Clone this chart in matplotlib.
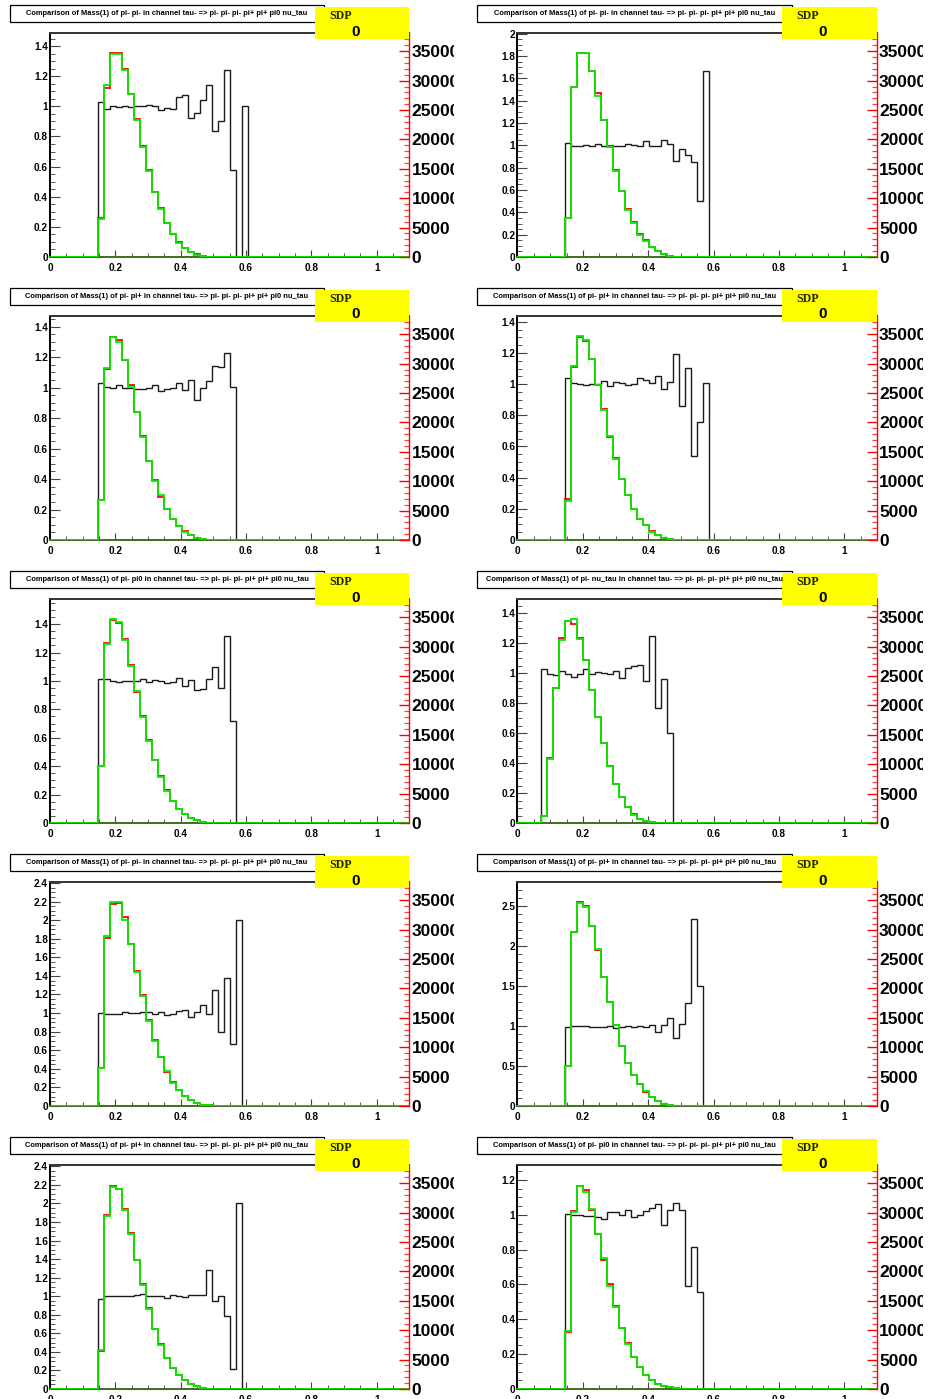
import numpy as np
import matplotlib
matplotlib.use("Agg")
import matplotlib.pyplot as plt
from matplotlib.patches import Rectangle
from matplotlib.ticker import MultipleLocator, AutoMinorLocator, FormatStrFormatter
from matplotlib.transforms import Bbox, TransformedBbox

plt.rcParams["font.family"] = ["Liberation Sans", "DejaVu Sans"]
plt.rcParams["font.weight"] = "bold"

W, H = 929, 1399
N_BINS = 60
edges = np.linspace(0.0, 1.1, N_BINS + 1)

# --- data (left-axis units) ---
titles = [
    "Comparison of Mass(1) of pi- pi- in channel tau- => pi- pi- pi- pi+ pi+ pi0 nu_tau",
    "Comparison of Mass(1) of pi- pi- in channel tau- => pi- pi- pi- pi+ pi+ pi0 nu_tau",
    "Comparison of Mass(1) of pi- pi+ in channel tau- => pi- pi- pi- pi+ pi+ pi0 nu_tau",
    "Comparison of Mass(1) of pi- pi+ in channel tau- => pi- pi- pi- pi+ pi+ pi0 nu_tau",
    "Comparison of Mass(1) of pi- pi0 in channel tau- => pi- pi- pi- pi+ pi+ pi0 nu_tau",
    "Comparison of Mass(1) of pi- nu_tau in channel tau- => pi- pi- pi- pi+ pi+ pi0 nu_tau",
    "Comparison of Mass(1) of pi- pi- in channel tau- => pi- pi- pi- pi+ pi+ pi0 nu_tau",
    "Comparison of Mass(1) of pi- pi+ in channel tau- => pi- pi- pi- pi+ pi+ pi0 nu_tau",
    "Comparison of Mass(1) of pi- pi+ in channel tau- => pi- pi- pi- pi+ pi+ pi0 nu_tau",
    "Comparison of Mass(1) of pi- pi0 in channel tau- => pi- pi- pi- pi+ pi+ pi0 nu_tau",
]
sdp_values = [0, 0, 0, 0, 0, 0, 0, 0, 0, 0]
first_bin = [8, 8, 8, 8, 8, 4, 8, 8, 8, 8]
y_max = [1.487, 2.006, 1.47, 1.437, 1.577, 1.494, 2.41, 2.806, 2.414, 1.286]
y_step = [0.2, 0.2, 0.2, 0.2, 0.2, 0.2, 0.2, 0.5, 0.2, 0.2]
right_max = 38100

ratio_1 = [1.03, 0.985, 1.0, 0.997, 1.0, 0.998, 1.0, 1.0, 1.01, 1.003, 0.975, 0.99, 0.982,
           1.065, 1.075, 0.92, 0.955, 1.04, 1.14, 0.835, 0.905, 1.24, 0.575, 0.0, 1.0]
green_1 = [0.25, 1.14, 1.35, 1.35, 1.24, 1.08, 0.91, 0.73, 0.57, 0.43, 0.32, 0.225, 0.15,
           0.095, 0.062, 0.033, 0.015, 0.007, 0.003, 0.001]
red_1 = [0.26, 1.125, 1.355, 1.355, 1.245, 1.08, 0.915, 0.735, 0.575, 0.43, 0.325, 0.225, 0.155,
         0.1, 0.062, 0.035, 0.017, 0.008, 0.003, 0.001]

ratio_2 = [1.024, 0.994, 0.995, 1.0, 0.998, 1.01, 0.99, 0.99, 0.99, 0.99, 1.01, 1.0, 0.99,
           1.04, 0.99, 0.99, 1.05, 1.015, 0.86, 0.97, 0.915, 0.855, 0.5, 1.67]
green_2 = [0.345, 1.52, 1.826, 1.826, 1.668, 1.446, 1.228, 0.988, 0.772, 0.593, 0.425, 0.305,
           0.2, 0.14, 0.09, 0.054, 0.024, 0.01, 0.004]
red_2 = [0.35, 1.525, 1.83, 1.83, 1.665, 1.47, 1.23, 0.99, 0.775, 0.595, 0.43, 0.31,
         0.21, 0.15, 0.092, 0.055, 0.026, 0.011, 0.004]

ratio_3 = [1.033, 1.002, 0.998, 1.015, 1.0, 0.998, 0.99, 0.99, 1.0, 1.017, 0.975, 0.99, 1.0,
           1.03, 0.985, 1.05, 0.92, 1.0, 1.046, 1.14, 1.135, 1.225, 1.005]
green_3 = [0.26, 1.13, 1.335, 1.3, 1.18, 1.005, 0.84, 0.675, 0.52, 0.39, 0.295, 0.205, 0.14,
           0.09, 0.055, 0.03, 0.015, 0.006, 0.002]
red_3 = [0.265, 1.125, 1.335, 1.315, 1.18, 1.015, 0.84, 0.68, 0.52, 0.395, 0.285, 0.205, 0.135,
         0.095, 0.058, 0.03, 0.015, 0.006, 0.002]

ratio_4 = [1.038, 1.008, 1.0, 0.997, 1.003, 1.0, 1.02, 0.986, 1.012, 1.01, 0.993, 0.998, 1.04,
           1.025, 1.005, 1.055, 0.97, 1.015, 1.196, 0.857, 1.106, 0.542, 0.76, 1.01]
green_4 = [0.247, 1.115, 1.308, 1.282, 1.164, 0.997, 0.836, 0.669, 0.521, 0.39, 0.29, 0.197,
           0.137, 0.094, 0.054, 0.032, 0.015, 0.006, 0.002]
red_4 = [0.26, 1.11, 1.305, 1.275, 1.16, 0.995, 0.84, 0.66, 0.525, 0.39, 0.29, 0.2,
         0.135, 0.094, 0.056, 0.032, 0.015, 0.006, 0.002]

ratio_5 = [1.013, 1.013, 0.999, 0.992, 1.002, 1.002, 0.997, 1.011, 0.992, 1.006, 1.0, 0.983,
           0.995, 1.018, 0.964, 1.006, 0.936, 0.945, 1.013, 1.1, 0.952, 1.313, 0.719]
green_5 = [0.398, 1.261, 1.435, 1.416, 1.289, 1.105, 0.929, 0.747, 0.577, 0.441, 0.323, 0.224,
           0.153, 0.099, 0.064, 0.035, 0.019, 0.007, 0.002]
red_5 = [0.4, 1.27, 1.43, 1.405, 1.295, 1.11, 0.92, 0.75, 0.585, 0.441, 0.33, 0.23,
         0.153, 0.1, 0.064, 0.035, 0.019, 0.007, 0.002]

ratio_6 = [1.029, 0.994, 0.987, 1.014, 0.994, 0.976, 0.994, 1.025, 0.991, 1.007, 1.002, 0.996,
           1.014, 0.967, 1.034, 1.047, 1.054, 0.949, 1.244, 0.764, 0.962, 0.598]
green_6 = [0.045, 0.43, 0.9, 1.22, 1.345, 1.36, 1.23, 1.085, 0.886, 0.708, 0.536, 0.38, 0.263,
           0.172, 0.105, 0.056, 0.029, 0.013, 0.004, 0.001]
red_6 = [0.045, 0.435, 0.9, 1.235, 1.345, 1.33, 1.235, 1.09, 0.89, 0.71, 0.536, 0.38, 0.26,
         0.175, 0.105, 0.058, 0.029, 0.013, 0.004, 0.001]

ratio_7 = [0.997, 0.99, 0.99, 0.995, 1.015, 1.0, 1.005, 1.008, 1.01, 0.99, 1.015, 0.98, 0.985,
           1.02, 1.03, 0.96, 1.015, 1.085, 0.985, 1.25, 0.8, 1.375, 0.668, 2.005]
green_7 = [0.407, 1.828, 2.195, 2.195, 1.997, 1.738, 1.447, 1.187, 0.918, 0.702, 0.522, 0.374,
           0.252, 0.169, 0.104, 0.065, 0.032, 0.014, 0.007, 0.003]
red_7 = [0.41, 1.81, 2.175, 2.18, 2.03, 1.74, 1.45, 1.19, 0.93, 0.71, 0.53, 0.37,
         0.255, 0.17, 0.106, 0.066, 0.033, 0.015, 0.007, 0.003]

ratio_8 = [0.992, 0.997, 1.005, 1.005, 0.992, 0.984, 0.992, 1.0, 0.976, 0.984, 1.005, 0.992,
           1.005, 0.992, 1.013, 0.921, 1.018, 1.106, 0.846, 1.03, 1.286, 2.337, 1.508]
green_8 = [0.503, 2.178, 2.542, 2.492, 2.253, 1.968, 1.621, 1.298, 1.018, 0.754, 0.536, 0.389,
           0.272, 0.184, 0.113, 0.063, 0.03, 0.013, 0.005, 0.002]
red_8 = [0.5, 2.18, 2.555, 2.51, 2.26, 1.955, 1.61, 1.3, 1.02, 0.754, 0.54, 0.389,
         0.272, 0.18, 0.113, 0.063, 0.03, 0.013, 0.005, 0.002]

ratio_9 = [0.975, 1.0, 1.003, 0.998, 1.005, 0.998, 1.01, 1.025, 1.0, 1.005, 1.0, 0.985, 1.008,
           1.005, 0.99, 1.015, 1.015, 1.015, 1.284, 0.947, 1.0, 0.79, 0.215, 2.005]
green_9 = [0.416, 1.866, 2.181, 2.156, 1.934, 1.672, 1.385, 1.123, 0.865, 0.649, 0.477, 0.334,
           0.226, 0.147, 0.093, 0.05, 0.029, 0.014, 0.004]
red_9 = [0.41, 1.87, 2.19, 2.15, 1.94, 1.68, 1.39, 1.13, 0.87, 0.65, 0.48, 0.334,
         0.226, 0.148, 0.093, 0.05, 0.029, 0.014, 0.004]

ratio_10 = [1.005, 1.0, 0.998, 0.994, 0.992, 0.99, 0.978, 1.017, 1.015, 1.001, 1.028, 0.99,
            0.998, 1.02, 1.04, 1.06, 0.94, 1.025, 1.07, 1.025, 0.59, 0.815, 0.555]
green_10 = [0.333, 1.019, 1.168, 1.131, 1.032, 0.887, 0.751, 0.594, 0.47, 0.348, 0.26, 0.182,
            0.126, 0.082, 0.054, 0.031, 0.017, 0.01, 0.004, 0.001]
red_10 = [0.33, 1.02, 1.165, 1.14, 1.03, 0.89, 0.74, 0.6, 0.475, 0.35, 0.265, 0.182,
          0.126, 0.082, 0.054, 0.031, 0.017, 0.01, 0.004, 0.001]

ratios = [ratio_1, ratio_2, ratio_3, ratio_4, ratio_5, ratio_6, ratio_7, ratio_8, ratio_9, ratio_10]
greens = [green_1, green_2, green_3, green_4, green_5, green_6, green_7, green_8, green_9, green_10]
reds = [red_1, red_2, red_3, red_4, red_5, red_6, red_7, red_8, red_9, red_10]


def full(vals, start):
    arr = np.zeros(N_BINS)
    arr[start:start + len(vals)] = vals
    return arr


def frac_rect(x0, y0, x1, y1):
    # pixel box (top-left origin) -> figure fraction rect
    return [x0 / W, 1 - y1 / H, (x1 - x0) / W, (y1 - y0) / H]


fig = plt.figure(figsize=(W / 100, H / 100), dpi=100)
fig.patch.set_facecolor("white")

col_dx = 467.5
row_dy = 283
twins = []

for i in range(10):
    row, col = divmod(i, 2)
    ox = col * col_dx
    oy = row * row_dy

    ax = fig.add_axes(frac_rect(50 + ox, 33 + oy, 409.5 + ox, 257 + oy))
    s = first_bin[i]
    ax.stairs(full(ratios[i], s), edges, color="#1a1a1a", lw=1.0, zorder=2)
    ax.stairs(full(reds[i], s), edges, color="#ff0000", lw=1.3, zorder=3)
    ax.stairs(full(greens[i], s), edges, color="#00ee00", lw=1.3, zorder=4)

    ax.set_xlim(0, 1.1)
    ax.set_ylim(0, y_max[i])
    ax.xaxis.set_major_locator(MultipleLocator(0.2))
    ax.xaxis.set_minor_locator(AutoMinorLocator(4))
    ax.yaxis.set_major_locator(MultipleLocator(y_step[i]))
    ax.yaxis.set_minor_locator(AutoMinorLocator(5 if y_step[i] == 0.5 else 4))
    ax.xaxis.set_major_formatter(FormatStrFormatter("%g"))
    ax.yaxis.set_major_formatter(FormatStrFormatter("%g"))
    ax.tick_params(axis="y", which="major", direction="in", length=7.2, width=0.8,
                   color="#444444", labelsize=7.2, pad=1.6)
    ax.tick_params(axis="y", which="minor", direction="in", length=3.6, width=0.7, color="#555555")
    ax.tick_params(axis="x", which="major", direction="in", length=4.8, width=0.8,
                   color="#444444", labelsize=7.2, pad=4.0)
    ax.tick_params(axis="x", which="minor", direction="in", length=3.0, width=0.7, color="#555555")
    for lab in ax.get_xticklabels() + ax.get_yticklabels():
        lab.set_fontweight("bold")
    ax.spines["left"].set_linewidth(1.4)
    ax.spines["top"].set_linewidth(1.4)
    ax.spines["top"].set_color("#333333")
    ax.spines["bottom"].set_linewidth(1.4)
    ax.spines["bottom"].set_color("#3f6f1f")
    ax.spines["right"].set_visible(False)

    ax2 = ax.twinx()
    ax2.set_ylim(0, right_max)
    ax2.yaxis.set_major_locator(MultipleLocator(5000))
    ax2.yaxis.set_minor_locator(MultipleLocator(1000))
    ax2.yaxis.set_major_formatter(FormatStrFormatter("%d"))
    ax2.tick_params(axis="y", which="major", direction="in", length=7.2, width=1.0,
                    color="#ff0000", labelsize=12.5, pad=1.5)
    ax2.tick_params(axis="y", which="minor", direction="in", length=3.6, width=0.9, color="#ff4040")
    for sp in ["left", "top", "bottom"]:
        ax2.spines[sp].set_visible(False)
    ax2.spines["right"].set_color("#ff0000")
    ax2.spines["right"].set_linewidth(1.0)
    twins.append((ax2, col))

    # title box
    tx0, tx1 = (10, 324) if col == 0 else (477, 792)
    fig.patches.append(Rectangle((tx0 / W, 1 - (22 + oy) / H), (tx1 - tx0) / W, 17 / H,
                                 transform=fig.transFigure, facecolor="white",
                                 edgecolor="black", lw=0.9, zorder=5))
    fig.text((tx0 + tx1) / 2 / W, 1 - (13.5 + oy) / H, titles[i], ha="center", va="center",
             fontsize=5.4, fontweight="bold", zorder=6)

    # yellow SDP box
    yx0, yx1 = (315, 409.5) if col == 0 else (782, 877)
    fig.patches.append(Rectangle((yx0 / W, 1 - (39 + oy) / H), (yx1 - yx0) / W, 32 / H,
                                 transform=fig.transFigure, facecolor="#ffff00",
                                 edgecolor="none", zorder=5))
    fig.text((yx0 + 14) / W, 1 - (16 + oy) / H, "SDP", ha="left", va="center",
             fontsize=8.6, fontweight="bold", family=["Liberation Serif", "DejaVu Serif"],
             color="#222200", zorder=6)
    fig.text((yx0 + 41) / W, 1 - (31.5 + oy) / H, str(sdp_values[i]), ha="center", va="center",
             fontsize=11, fontweight="bold", zorder=6)

fig.canvas.draw()
for ax2, col in twins:
    clip_x = 454 if col == 0 else 923
    box = TransformedBbox(Bbox([[0, 0], [clip_x / W, 1]]), fig.transFigure)
    for t in ax2.yaxis.get_major_ticks():
        t.label2.set_fontweight("bold")
        t.label2.set_clip_box(box)
        t.label2.set_clip_on(True)

fig.savefig("out.png", dpi=100, facecolor="white")
